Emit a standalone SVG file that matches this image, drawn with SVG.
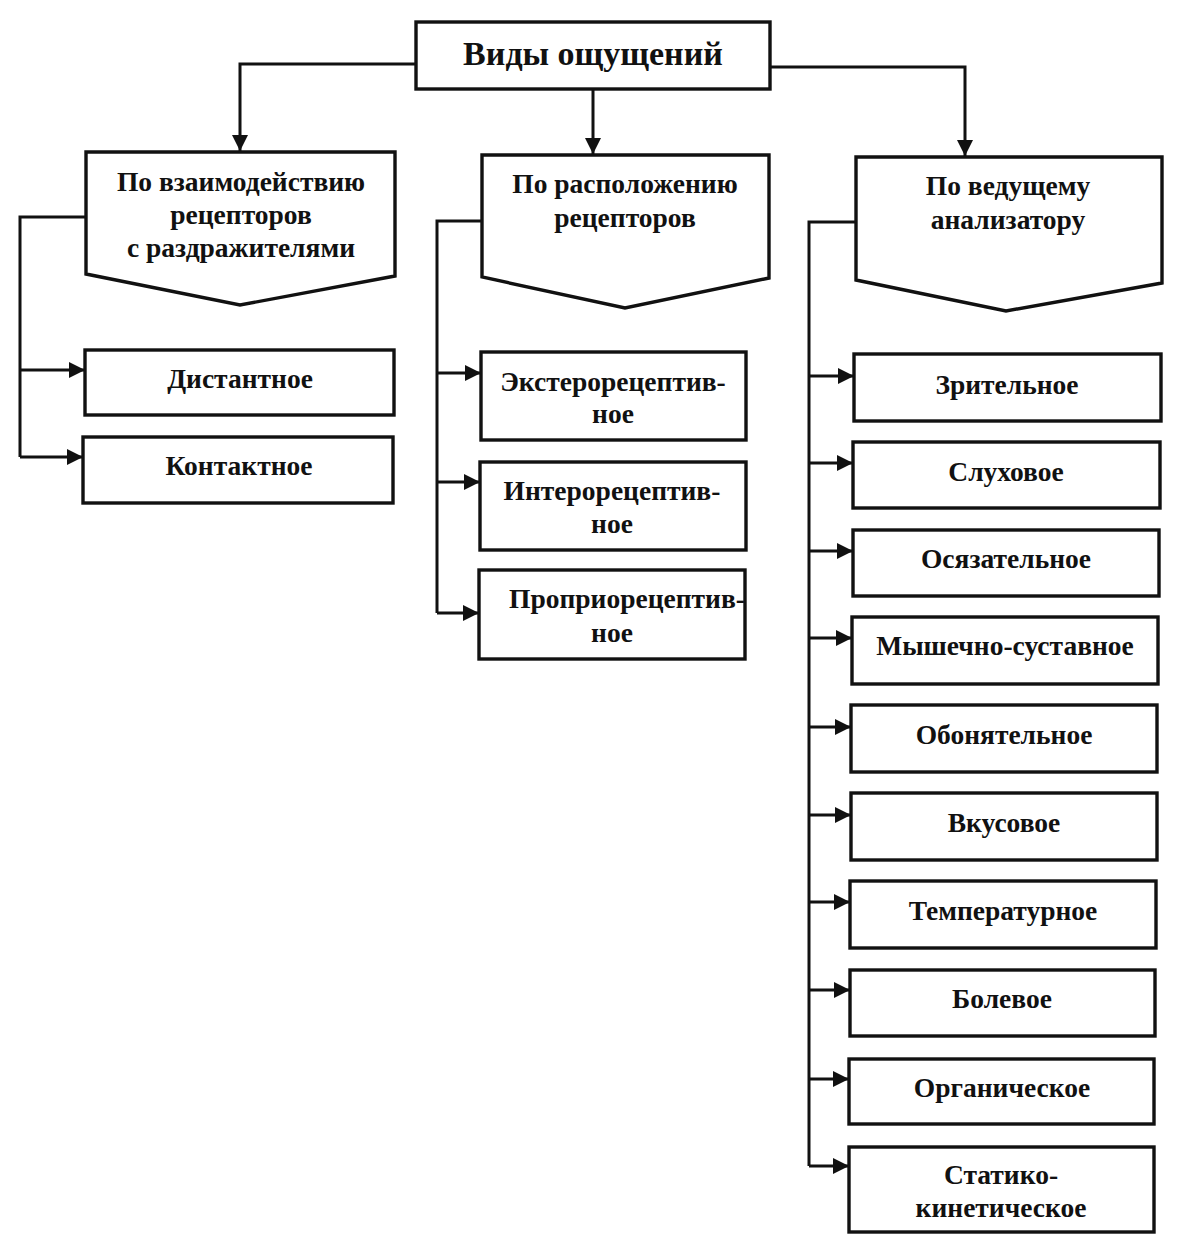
<svg xmlns="http://www.w3.org/2000/svg" width="1194" height="1254" viewBox="0 0 1194 1254">
<defs>
<marker id="ah" viewBox="0 0 10 10" refX="10" refY="5" markerWidth="5.5" markerHeight="5.5" markerUnits="strokeWidth" orient="auto">
<path d="M0,0 L10,5 L0,10 z" fill="#111"/>
</marker>
<style>
.b{fill:#fff;stroke:#111;stroke-width:3.4}
.t{font-family:"Liberation Serif","Times New Roman",serif;font-weight:bold;font-size:27.5px;fill:#111;text-anchor:middle}
.c{fill:none;stroke:#111;stroke-width:3}
</style>
</defs>
<rect width="1194" height="1254" fill="#fff"/>
<g id="connectors">
<path class="c" d="M416,64 H240 V151" marker-end="url(#ah)"/>
<path class="c" d="M593,89 V154" marker-end="url(#ah)"/>
<path class="c" d="M770,67 H965 V156" marker-end="url(#ah)"/>
<path class="c" d="M86,217 H20 V457"/>
<path class="c" d="M20,370 H85" marker-end="url(#ah)"/>
<path class="c" d="M20,457 H83" marker-end="url(#ah)"/>
<path class="c" d="M482,221 H437 V613"/>
<path class="c" d="M437,373 H481" marker-end="url(#ah)"/>
<path class="c" d="M437,482 H480" marker-end="url(#ah)"/>
<path class="c" d="M437,613 H479" marker-end="url(#ah)"/>
<path class="c" d="M856,222 H809 V1166"/>
<path class="c" d="M809,376 H854" marker-end="url(#ah)"/>
<path class="c" d="M809,463 H853" marker-end="url(#ah)"/>
<path class="c" d="M809,551 H853" marker-end="url(#ah)"/>
<path class="c" d="M809,638 H852" marker-end="url(#ah)"/>
<path class="c" d="M809,727 H851" marker-end="url(#ah)"/>
<path class="c" d="M809,815 H851" marker-end="url(#ah)"/>
<path class="c" d="M809,902 H850" marker-end="url(#ah)"/>
<path class="c" d="M809,990 H850" marker-end="url(#ah)"/>
<path class="c" d="M809,1079 H849" marker-end="url(#ah)"/>
<path class="c" d="M809,1166 H849" marker-end="url(#ah)"/>
</g>
<g id="root">
<rect class="b" x="416" y="22" width="354" height="67"/>
<text class="t" x="593" y="65" style="font-size:34px">Виды ощущений</text>
</g>
<g id="cat1">
<path class="b" d="M86,152 H395 V276 L240,305 L86,274 Z"/>
<text class="t" x="241" y="191">По взаимодействию</text>
<text class="t" x="241" y="224">рецепторов</text>
<text class="t" x="241" y="257">с раздражителями</text>
</g>
<g id="cat2">
<path class="b" d="M482,155 H769 V278 L625,308 L482,277 Z"/>
<text class="t" x="625" y="193">По расположению</text>
<text class="t" x="625" y="227">рецепторов</text>
</g>
<g id="cat3">
<path class="b" d="M856,157 H1162 V283 L1006,311 L856,280 Z"/>
<text class="t" x="1008" y="195">По ведущему</text>
<text class="t" x="1008" y="229">анализатору</text>
</g>
<g id="n-dist"><rect class="b" x="85" y="350" width="309" height="65"/><text class="t" x="240" y="388">Дистантное</text></g>
<g id="n-kont"><rect class="b" x="83" y="437" width="310" height="66"/><text class="t" x="239" y="475">Контактное</text></g>
<g id="n-ext"><rect class="b" x="481" y="352" width="265" height="88"/><text class="t" x="613" y="391">Экстерорецептив-</text><text class="t" x="613" y="423">ное</text></g>
<g id="n-int"><rect class="b" x="480" y="462" width="266" height="88"/><text class="t" x="612" y="500">Интерорецептив-</text><text class="t" x="612" y="533">ное</text></g>
<g id="n-prop"><rect class="b" x="479" y="570" width="266" height="89"/><text class="t" x="627" y="608">Проприорецептив-</text><text class="t" x="612" y="642">ное</text></g>
<g id="n-zr"><rect class="b" x="854" y="354" width="307" height="67"/><text class="t" x="1007" y="394">Зрительное</text></g>
<g id="n-sl"><rect class="b" x="853" y="442" width="307" height="66"/><text class="t" x="1006" y="481">Слуховое</text></g>
<g id="n-os"><rect class="b" x="853" y="530" width="306" height="66"/><text class="t" x="1006" y="568">Осязательное</text></g>
<g id="n-my"><rect class="b" x="852" y="617" width="306" height="67"/><text class="t" x="1005" y="655">Мышечно-суставное</text></g>
<g id="n-ob"><rect class="b" x="851" y="705" width="306" height="67"/><text class="t" x="1004" y="744">Обонятельное</text></g>
<g id="n-vk"><rect class="b" x="851" y="793" width="306" height="67"/><text class="t" x="1004" y="832">Вкусовое</text></g>
<g id="n-tm"><rect class="b" x="850" y="881" width="306" height="67"/><text class="t" x="1003" y="920">Температурное</text></g>
<g id="n-bl"><rect class="b" x="850" y="970" width="305" height="66"/><text class="t" x="1002" y="1008">Болевое</text></g>
<g id="n-or"><rect class="b" x="849" y="1059" width="305" height="65"/><text class="t" x="1002" y="1097">Органическое</text></g>
<g id="n-st"><rect class="b" x="849" y="1147" width="305" height="85"/><text class="t" x="1001" y="1184">Статико-</text><text class="t" x="1001" y="1217">кинетическое</text></g>
</svg>
